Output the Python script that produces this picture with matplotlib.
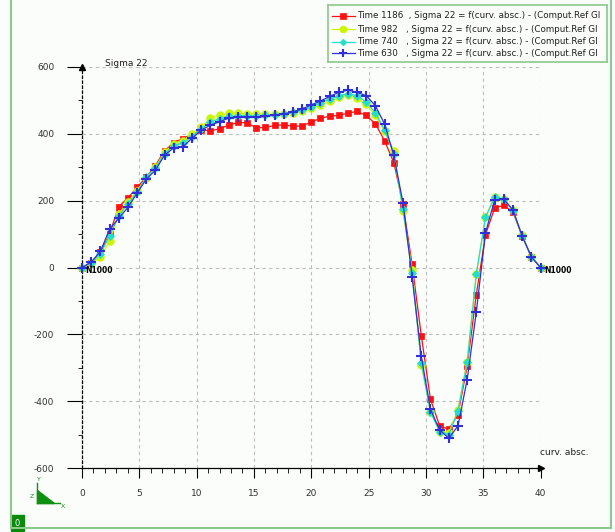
import numpy as np
import matplotlib
matplotlib.use("Agg")
import matplotlib.pyplot as plt
from matplotlib.lines import Line2D
from matplotlib.patches import Polygon, Rectangle

W, H = 615, 532

# abscisse curviligne : 51 noeuds de 0 a 40
x = np.linspace(0.0, 40.0, 51)

sig_1186 = [0, 12, 45, 100, 182, 208, 240, 270, 305, 349, 374, 386, 398, 412, 409,
            415, 426, 434, 433, 418, 419, 425, 427, 423, 423, 436, 446, 453, 455, 462,
            467, 455, 430, 379, 314, 190, 9, -204, -394, -474, -484, -440, -296, -81,
            98, 178, 186, 166, 94, 32, 0]
sig_982 = [0, 12, 30, 79, 160, 195, 230, 268, 300, 345, 370, 380, 400, 420, 446,
           455, 461, 461, 460, 460, 458, 458, 460, 463, 468, 476, 486, 497, 509, 515,
           508, 488, 455, 408, 349, 169, -6, -291, -431, -491, -495, -426, -282, -20,
           152, 210, 204, 172, 96, 32, 0]
sig_740 = [0, 14, 40, 95, 155, 190, 225, 270, 298, 340, 365, 372, 392, 415, 435,
           445, 452, 454, 454, 454, 455, 457, 460, 464, 470, 480, 492, 504, 514, 520,
           514, 496, 462, 412, 340, 175, -15, -285, -432, -492, -500, -430, -284, -20,
           150, 210, 205, 170, 95, 32, 0]
sig_630 = [0, 16, 48, 114, 147, 180, 222, 264, 291, 336, 358, 361, 387, 411, 426,
           436, 447, 449, 449, 449, 452, 456, 459, 466, 474, 487, 498, 512, 524, 531,
           524, 514, 484, 429, 336, 194, -28, -266, -424, -486, -511, -474, -336, -133,
           104, 202, 204, 172, 94, 32, 0]

series = [
    ("Time 1186", sig_1186, "#ff1010", "s", 4.2, 0.0),
    ("Time 982 ", sig_982, "#ccf500", "o", 5.5, 0.0),
    ("Time 740 ", sig_740, "#20e0c8", "D", 3.8, 0.0),
    ("Time 630 ", sig_630, "#3030d8", "+", 6.5, 1.5),
]

yticks = [-600, -400, -200, 0, 200, 400, 600]
xticks = [0, 5, 10, 15, 20, 25, 30, 35, 40]


def fx(px):
    return px / W


def fy(py):
    return 1 - py / H


fig = plt.figure(figsize=(6.15, 5.32), dpi=100)
fig.patch.set_facecolor("#fbfdfb")

ax = fig.add_axes([fx(82), fy(468), (540.5 - 82) / W, (468 - 67) / H])
ax.set_facecolor("none")
ax.set_xlim(0, 40)
ax.set_ylim(-600, 600)

# grille
for gx in xticks[1:]:
    ax.axvline(gx, color="#bdbdbd", lw=0.8, ls=(0, (3, 3)), zorder=0)
for gy in yticks[1:]:
    ax.axhline(gy, color="#bdbdbd", lw=0.8, ls=(0, (3, 3)), zorder=0)

for name, vals, col, mk, ms, mew in series:
    ax.plot(x, vals, color=col, lw=0.9, marker=mk, ms=ms, mew=mew if mew else 0.5,
            mec=col, mfc=col, clip_on=False, zorder=3)

for s in ["top", "right"]:
    ax.spines[s].set_visible(False)
ax.spines["left"].set_linestyle((0, (2, 2)))
ax.spines["left"].set_linewidth(0.9)
ax.spines["bottom"].set_linewidth(0.9)

ax.set_xticks(xticks)
ax.set_xticks(np.arange(0, 41, 1), minor=True)
ax.set_yticks(yticks)
ax.set_yticks(np.arange(-600, 601, 100), minor=True)
ax.tick_params(axis="x", which="major", length=7, width=0.8, pad=8, labelsize=6.5,
               labelcolor="#303030")
ax.tick_params(axis="x", which="minor", length=3.5, width=0.6)
ax.tick_params(axis="y", which="major", length=11, width=0.8, pad=9, labelsize=6.5,
               labelcolor="#303030")
ax.tick_params(axis="y", which="minor", length=3, width=0.6)
ax.set_xticklabels([str(t) for t in xticks])
ax.set_yticklabels([str(t) for t in yticks])

# fleches des axes
ax.plot([0], [600], marker="^", color="black", ms=4, clip_on=False, zorder=4)
ax.plot([40], [-600], marker=">", color="black", ms=4, clip_on=False, zorder=4)

ax.text(2.0, 610, "Sigma 22", fontsize=6.5, ha="left", va="center", color="#202020")
ax.text(40.0, -555, "curv. absc.", fontsize=6.5, ha="left", va="center", color="#202020")
ax.text(0.3, -8, "N1000", fontsize=5.5, ha="left", va="center", fontweight="bold")
ax.text(40.3, -8, "N1000", fontsize=5.5, ha="left", va="center", fontweight="bold")

# legende (texte tronque comme dans la fenetre d'origine)
lx0, ly0, lx1, ly1 = 328, 5, 607, 62
leg = fig.add_axes([fx(lx0), fy(ly1), (lx1 - lx0) / W, (ly1 - ly0) / H])
leg.set_facecolor("#fbfdfb")
leg.set_xlim(0, lx1 - lx0)
leg.set_ylim(ly1 - ly0, 0)
leg.set_xticks([])
leg.set_yticks([])
for s in leg.spines.values():
    s.set_color("#8cc88c")
    s.set_linewidth(1.2)
rows = [16, 29, 42, 53]
for (name, vals, col, mk, ms, mew), ry in zip(series, rows):
    yy = ry - ly0
    leg.plot([4, 27], [yy, yy], color=col, lw=0.9)
    leg.plot([15], [yy], marker=mk, color=col, ms=ms * 0.9,
             mew=mew if mew else 0.5)
    leg.text(29, yy, name + "  , Sigma 22 = f(curv. absc.) - (Comput.Ref Gl",
             fontsize=6.3, va="center", ha="left", color="#202020")

# cadre vert
fig.add_artist(Line2D([fx(11), fx(11)], [fy(0), fy(528)], color="#8cc88c", lw=1.5))
fig.add_artist(Line2D([fx(11), fx(611)], [fy(528), fy(528)], color="#8cc88c", lw=1.5))
fig.add_artist(Line2D([fx(611), fx(611)], [fy(0), fy(528)], color="#8cc88c", lw=1.5))

# repere
g = "#109010"
fig.add_artist(Line2D([fx(37), fx(37)], [fy(483), fy(503)], color=g, lw=1))
fig.add_artist(Line2D([fx(37), fx(60)], [fy(503), fy(503)], color=g, lw=1))
fig.add_artist(Polygon([[fx(37), fy(490)], [fx(37), fy(503)], [fx(54), fy(503)]],
                       closed=True, color=g))
fig.text(fx(39), fy(482), "Y", fontsize=4.5, color=g, ha="center", va="bottom")
fig.text(fx(32), fy(497), "Z", fontsize=4.5, color=g, ha="center", va="center")
fig.text(fx(63), fy(507), "X", fontsize=4.5, color=g, ha="center", va="center")

fig.add_artist(Rectangle((fx(11), fy(531)), fx(13), 16 / H, color="#0a8a0a"))
fig.text(fx(17.5), fy(523), "0", fontsize=6, color="white", ha="center", va="center")

fig.savefig("out.png", dpi=100, facecolor=fig.get_facecolor())
